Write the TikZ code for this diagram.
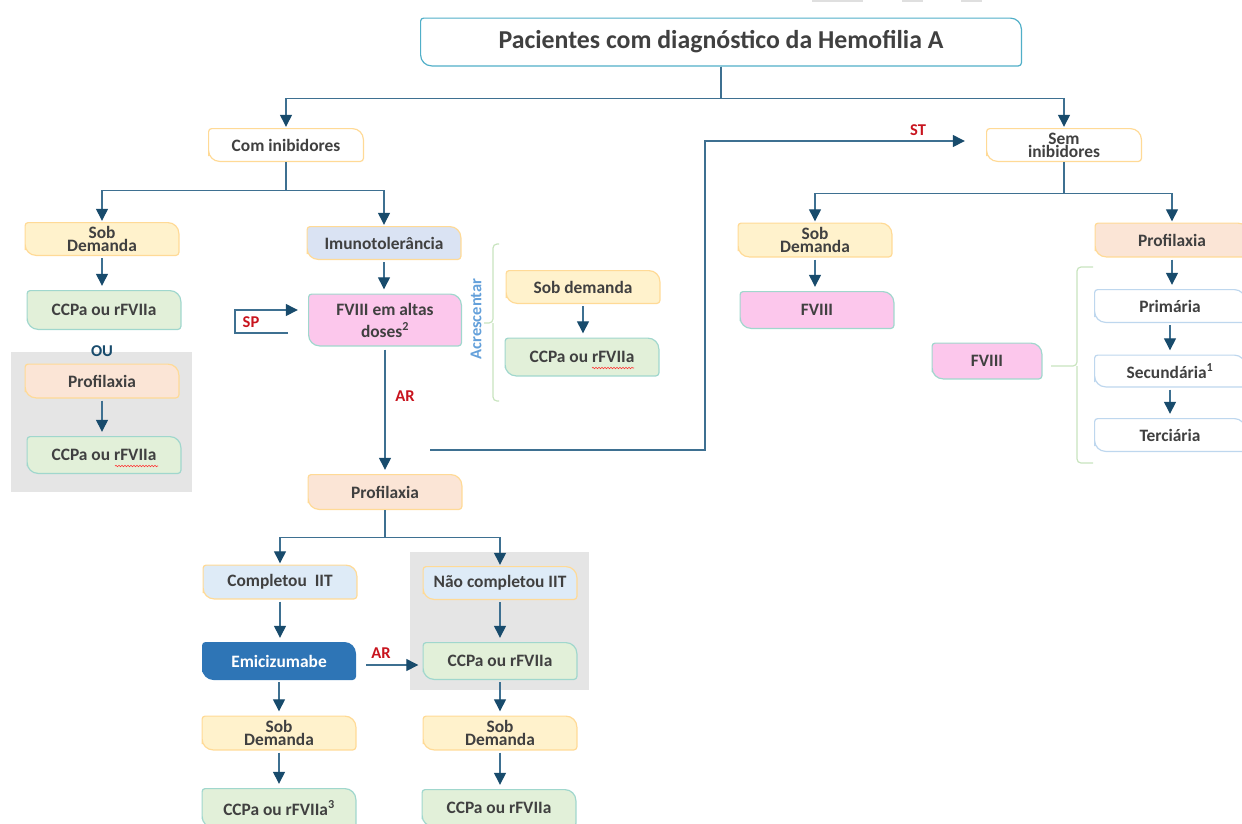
\documentclass[tikz,border=0pt]{standalone}
\usepackage{fontspec}
\setmainfont{Carlito}
\usetikzlibrary{arrows.meta, positioning, decorations.pathmorphing}

\definecolor{txt}{RGB}{64,64,64}
\definecolor{lnc}{RGB}{62,112,145}
\definecolor{headc}{RGB}{24,75,108}
\definecolor{tagred}{RGB}{200,20,30}
\definecolor{ora}{RGB}{255,218,150}
\definecolor{teal}{RGB}{160,215,205}
\definecolor{titleb}{RGB}{80,175,200}
\definecolor{lblb}{RGB}{190,215,238}
\definecolor{yel}{RGB}{255,242,204}
\definecolor{grn}{RGB}{226,240,217}
\definecolor{pch}{RGB}{251,229,214}
\definecolor{imu}{RGB}{218,227,243}
\definecolor{pnk}{RGB}{252,199,236}
\definecolor{lblu}{RGB}{222,235,247}
\definecolor{dblu}{RGB}{46,117,182}
\definecolor{bgg}{RGB}{229,229,229}
\definecolor{brc}{RGB}{200,228,190}
\definecolor{acr}{RGB}{100,160,218}

% caixa com cantos redondos na diagonal
\newcommand{\rdiag}[2]{%
  \filldraw[fill=#1, draw=#2, line width=1.2pt]
    ([xshift=.6pt]path picture bounding box.west) [rounded corners=3pt]
    -- ([xshift=.6pt,yshift=-.6pt]path picture bounding box.north west) [rounded corners=11pt]
    -- ([xshift=-.6pt,yshift=-.6pt]path picture bounding box.north east) [rounded corners=3pt]
    -- ([xshift=-.6pt,yshift=.6pt]path picture bounding box.south east) [rounded corners=11pt]
    -- ([xshift=.6pt,yshift=.6pt]path picture bounding box.south west) -- cycle;}

\tikzset{
  box/.style 2 args={rectangle, minimum width=155pt, minimum height=35pt, inner sep=1pt,
    align=center, text=txt, font=\fontsize{17.4}{13.2}\selectfont\bfseries,
    path picture={\rdiag{#1}{#2}}},
  arr/.style={draw=lnc, line width=1.3pt, -{Triangle[length=12pt,width=12pt,color=headc]}},
  tag/.style={text=tagred, font=\fontsize{16.5}{16.5}\selectfont\bfseries},
  brace/.style={draw=brc, line width=1.2pt, rounded corners=4pt},
  wavy/.style={draw=red!80, line width=.6pt, decorate,
    decoration={snake, segment length=3pt, amplitude=.7pt}},
}

\begin{document}
\begin{tikzpicture}[x=1pt, y=-1pt]
\useasboundingbox (0,0) rectangle (1242,823);

% fundos cinza
\fill[bgg] (11,352) rectangle (192,492);
\fill[bgg] (410,552) rectangle (589,690);
\fill[gray!25] (812,0) rectangle (863,1.5);
\fill[gray!25] (902,0) rectangle (923,1.5);
\fill[gray!25] (961,0) rectangle (982,1.5);

% topo
\node[box={white}{titleb}, minimum width=602pt, minimum height=49pt,
  font=\fontsize{25.8}{25.8}\selectfont\bfseries] (title) at (721,42) {Pacientes com diagnóstico da Hemofilia A};
\node[box={white}{ora}, minimum width=156pt, minimum height=34pt] (com) at (286,145) {Com inibidores};
\node[box={white}{ora}, minimum width=156pt, minimum height=34pt] (sem) at (1064,145) {Sem\\inibidores};

% com inibidores
\node[box={yel}{ora}, minimum height=34pt] (sobL) at (102,239) {Sob\\Demanda};
\node[box={grn}{teal}, minimum height=40pt] (ccpL) at (104,310) {CCPa ou rFVIIa};
\node[text=headc, font=\fontsize{16.5}{16.5}\selectfont\bfseries] (ou) at (102,351) {OU};
\node[box={pch}{ora}] (proL) at (102,381) {Profilaxia};
\node[box={grn}{teal}, minimum height=38pt] (ccpL2) at (104,455) {CCPa ou rFVIIa};

\node[box={imu}{ora}, minimum height=34pt] (imuno) at (384,243) {Imunotolerância};
\node[box={pnk}{teal}, minimum width=154pt, minimum height=53pt,
  font=\fontsize{17.4}{22}\selectfont\bfseries] (fviii) at (385,320) {FVIII em altas\\doses\textsuperscript{2}};
\node[text=acr, rotate=90, font=\fontsize{16.5}{16.5}\selectfont\bfseries] (acr) at (476,319) {Acrescentar};
\node[box={yel}{ora}, minimum height=34pt] (sobA) at (583,287) {Sob demanda};
\node[box={grn}{teal}, minimum height=39pt] (ccpA) at (582,357) {CCPa ou rFVIIa};

\node[box={pch}{ora}, minimum height=36pt] (proM) at (385,492) {Profilaxia};
\node[box={lblu}{ora}] (comp) at (280,582) {Completou~~IIT};
\node[box={lblu}{ora}, minimum height=34pt] (ncomp) at (500,583) {Não completou IIT};
\node[box={dblu}{dblu}, minimum width=154pt, minimum height=38pt, text=white] (emici) at (279,661) {Emicizumabe};
\node[box={grn}{teal}, minimum height=38pt] (ccpN) at (500,661) {CCPa ou rFVIIa};
\node[box={yel}{ora}] (sobC) at (279,733) {Sob\\Demanda};
\node[box={yel}{ora}] (sobN) at (500,733) {Sob\\Demanda};
\node[box={grn}{teal}, minimum height=40pt] (ccpC) at (279,808) {CCPa ou rFVIIa\textsuperscript{3}};
\node[box={grn}{teal}, minimum height=38pt] (ccpN2) at (499,808) {CCPa ou rFVIIa};

% sem inibidores
\node[box={yel}{ora}] (sobR) at (815,240) {Sob\\Demanda};
\node[box={pnk}{teal}, minimum height=38pt] (fviiiR) at (817,310) {FVIII};
\node[box={pch}{ora}] (proR) at (1172,240) {Profilaxia};
\node[box={white}{lblb}, minimum width=152pt, minimum height=34pt] (prim) at (1170,306) {Primária};
\node[box={white}{lblb}, minimum width=152pt, minimum height=33pt] (sec) at (1170,371) {Secundária\textsuperscript{1}};
\node[box={white}{lblb}, minimum width=152pt, minimum height=34pt] (ter) at (1170,435) {Terciária};
\node[box={pnk}{teal}, minimum width=111pt, minimum height=37pt] (fviiiS) at (987,361) {FVIII};

% ramos
\draw[arr, shorten >=1pt] (title.south) -- ++(0,31.5) -| (com.north);
\draw[arr, shorten >=1pt] (title.south) -- ++(0,31.5) -| (sem.north);
\draw[arr, shorten >=1pt] (com.south) -- ++(0,28) -| (sobL.north);
\draw[arr, shorten >=1pt] (com.south) -- ++(0,28) -| (imuno.north);
\draw[arr, shorten >=1pt] (sem.south) -- ++(0,31) -| (sobR.north);
\draw[arr, shorten >=1pt] (sem.south) -- ++(0,31) -| (proR.north);
\draw[arr, shorten >=1pt] (proM.south) -- ++(0,27) -| (comp.north);
\draw[arr, shorten >=1pt] (proM.south) -- ++(0,27) -| (ncomp.north);

\foreach \a/\b in {sobL/ccpL, proL/ccpL2, imuno/fviii, sobA/ccpA, comp/emici, ncomp/ccpN,
    emici/sobC, sobC/ccpC, ccpN/sobN, sobN/ccpN2, sobR/fviiiR, proR/prim, prim/sec, sec/ter}
  \draw[arr, shorten <=2pt, shorten >=4pt] (\a.south) -- (\a.south |- \b.north);

\draw[arr, shorten <=3pt, shorten >=4pt] (fviii.south) -- (proM.north);
\node[tag] (ar1) at (405,396) {AR};

% SP
\coordinate (sp) at (288,333);
\coordinate (spk) at (235,310);
\draw[arr, shorten >=10pt] (sp) -| (spk) -- (spk -| fviii.west);
\node[tag] (sptag) at (251,322) {SP};

% ST
\coordinate (st) at (430,450);
\coordinate (stk) at (705,141);
\draw[arr, shorten >=21pt] (st) -| (stk) -- (stk -| sem.west);
\node[tag] (sttag) at (918,130) {ST};

% AR
\draw[arr, shorten >=4pt] ([shift={(10pt,-4pt)}]emici.east) -- ([yshift=-4pt]ccpN.west);
\node[tag] (ar2) at (381,653) {AR};

% chaves
\draw[brace] (499,244) -- (493,244) -- (493,323) -- (484,323);
\draw[brace] (499,401) -- (493,401) -- (493,323);
\draw[brace] (1093,267) -- (1077,267) -- (1077,366) -- (1051,366);
\draw[brace] (1093,463) -- (1077,463) -- (1077,366);

% corretor ortografico
\draw[wavy] ([shift={(11pt,-11pt)}]ccpL2.center) -- ([shift={(54pt,-11pt)}]ccpL2.center);
\draw[wavy] ([shift={(10pt,-11pt)}]ccpA.center) -- ([shift={(52pt,-11pt)}]ccpA.center);

\end{tikzpicture}
\end{document}
